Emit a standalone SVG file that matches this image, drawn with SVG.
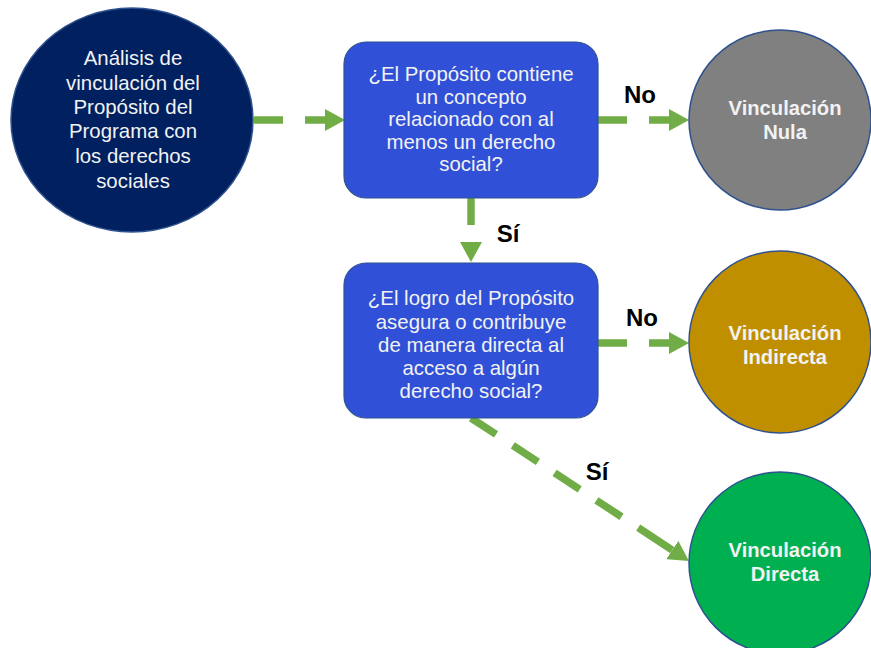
<svg xmlns="http://www.w3.org/2000/svg" width="871" height="648" viewBox="0 0 871 648">
<style>
.t{font-family:"Liberation Sans",Arial,sans-serif;font-size:20.4px;fill:#F2F2F2;text-anchor:middle}
.b{font-family:"Liberation Sans",Arial,sans-serif;font-size:20.2px;font-weight:bold;fill:#F2F2F2;text-anchor:middle}
.lbl{font-family:"Liberation Sans",Arial,sans-serif;font-size:24px;font-weight:bold;fill:#000;text-anchor:middle}
.box{fill:#3050D7;stroke:#2F528F;stroke-width:1.2}
.circ{stroke:#2F528F;stroke-width:1.5}
.conn{fill:none;stroke:#70AD47;stroke-width:7.5}
</style>
<defs>
<marker id="ah" markerUnits="userSpaceOnUse" viewBox="0 0 20 22" markerWidth="20" markerHeight="22" refX="0" refY="11" orient="auto">
<path d="M0,0 L20,11 L0,22 Z" fill="#70AD47"/>
</marker>
</defs>
<g id="connectors">
<line class="conn" x1="254" y1="120" x2="325" y2="120" stroke-dasharray="29 22" marker-end="url(#ah)"/>
<line class="conn" x1="598" y1="120" x2="669" y2="120" stroke-dasharray="29 22" marker-end="url(#ah)"/>
<line class="conn" x1="471" y1="198" x2="471" y2="242" stroke-dasharray="27 17" marker-end="url(#ah)"/>
<line class="conn" x1="598" y1="343" x2="669" y2="343" stroke-dasharray="29 22" marker-end="url(#ah)"/>
<line class="conn" x1="471" y1="418" x2="672.25" y2="550.06" stroke-dasharray="30 20 30 20 30 20 30 20 42" marker-end="url(#ah)"/>
<text class="lbl" x="640" y="103">No</text>
<text class="lbl" x="508" y="242">Sí</text>
<text class="lbl" x="642" y="326">No</text>
<text class="lbl" x="597" y="480">Sí</text>
</g>
<g id="start">
<ellipse class="circ" cx="132" cy="120" rx="121" ry="112" fill="#002060"/>
<text class="t" x="133" y="65">Análisis de</text>
<text class="t" x="133" y="90">vinculación del</text>
<text class="t" x="133" y="114">Propósito del</text>
<text class="t" x="133" y="138">Programa con</text>
<text class="t" x="133" y="163">los derechos</text>
<text class="t" x="133" y="188">sociales</text>
</g>
<g id="q1">
<rect class="box" x="344" y="42" width="254" height="156" rx="22"/>
<text class="t" x="471" y="81">¿El Propósito contiene</text>
<text class="t" x="471" y="104">un concepto</text>
<text class="t" x="471" y="126">relacionado con al</text>
<text class="t" x="471" y="149">menos un derecho</text>
<text class="t" x="471" y="171">social?</text>
</g>
<g id="q2">
<rect class="box" x="344" y="263" width="254" height="155" rx="22"/>
<text class="t" x="471" y="305">¿El logro del Propósito</text>
<text class="t" x="471" y="329">asegura o contribuye</text>
<text class="t" x="471" y="352">de manera directa al</text>
<text class="t" x="471" y="375">acceso a algún</text>
<text class="t" x="471" y="398">derecho social?</text>
</g>
<g id="nula">
<ellipse class="circ" cx="780" cy="120" rx="91" ry="90" fill="#808080"/>
<text class="b" x="785" y="115">Vinculación</text>
<text class="b" x="785" y="139">Nula</text>
</g>
<g id="indirecta">
<ellipse class="circ" cx="780" cy="342" rx="91" ry="91" fill="#BF8F00"/>
<text class="b" x="785" y="340">Vinculación</text>
<text class="b" x="785" y="364">Indirecta</text>
</g>
<g id="directa">
<ellipse class="circ" cx="780" cy="563" rx="91" ry="91" fill="#00B050"/>
<text class="b" x="785" y="557">Vinculación</text>
<text class="b" x="785" y="581">Directa</text>
</g>
</svg>
